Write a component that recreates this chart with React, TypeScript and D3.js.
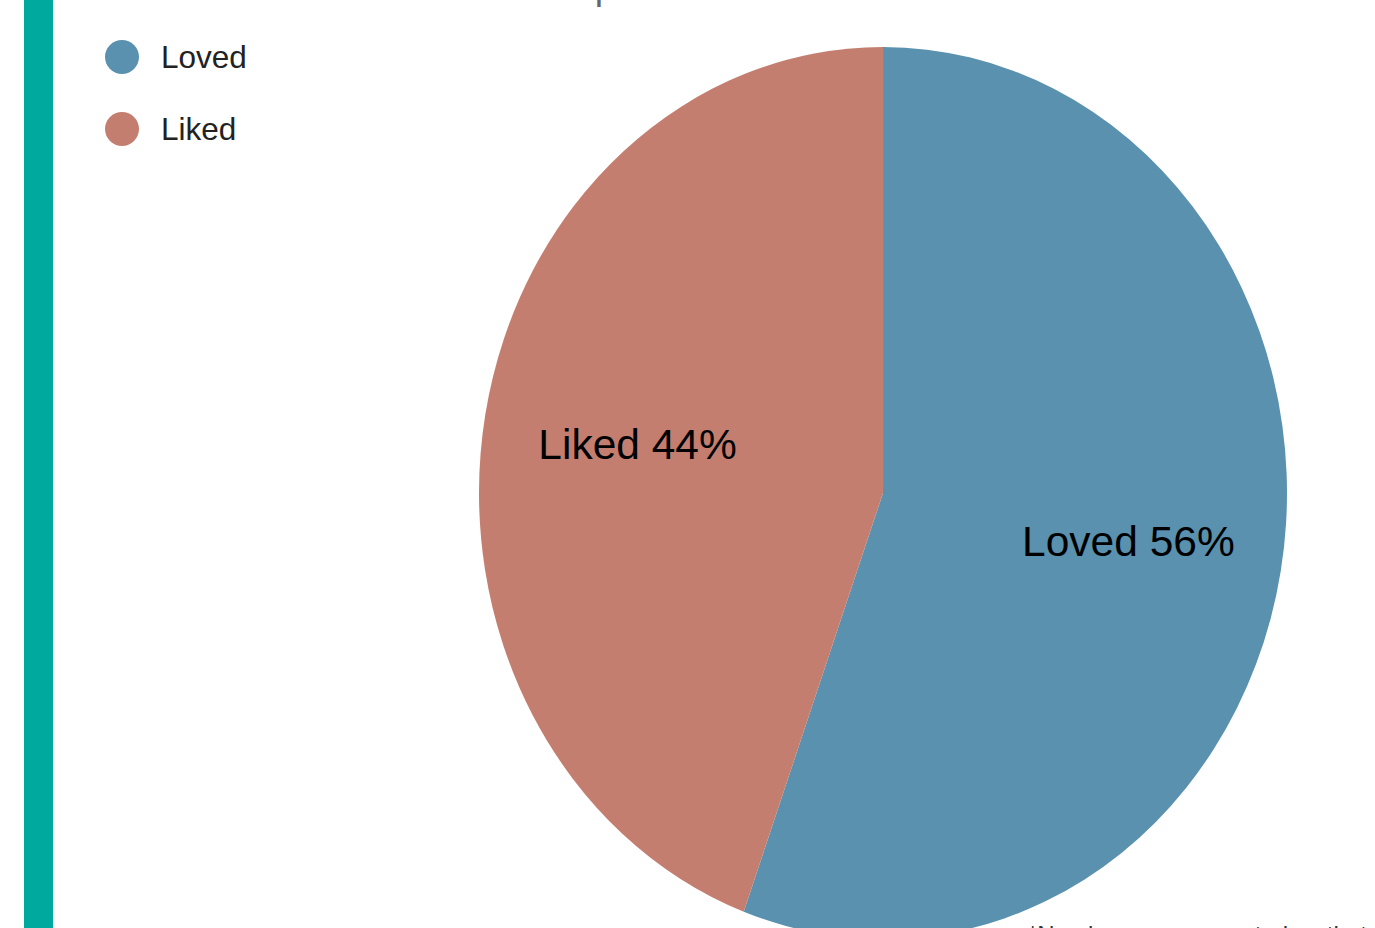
import React from "react";
import * as d3 from "d3";

const categories = ["Loved", "Liked"];
const values = [55.6, 44.4];
const colors = ["#5991AF", "#C47E6F"];
const titleText = "Recipe Satisfaction Results";
const footnoteText = "*Numbers are computed so that the total is 100%";

const W = 1375;
const H = 928;

export default function App() {
  const cx = 883;
  const cy = 493;
  const rx = 404;
  const ry = 446;

  const pie = d3.pie<number>().sort(null).value((d) => d);
  const arcs = pie(values);
  const arc = d3.arc<d3.PieArcDatum<number>>().innerRadius(0).outerRadius(rx);
  const labelArc = d3
    .arc<d3.PieArcDatum<number>>()
    .innerRadius(rx * 0.617)
    .outerRadius(rx * 0.617);
  const sy = ry / rx;
  const total = d3.sum(values);

  const legendY = d3.scalePoint<string>().domain(categories).range([57, 129]);

  return (
    <div style={{ position: "absolute", left: 0, top: 0, width: W, height: H, overflow: "hidden" }}>
      <svg width={W} height={H} style={{ display: "block", background: "#fff" }}>
        <rect x={24} y={0} width={29} height={H} fill="#00A99D" />
        <text
          x={520}
          y={-1}
          fontFamily="Liberation Sans, Arial, sans-serif"
          fontSize={40}
          fill="#666"
          textLength={455}
          lengthAdjust="spacingAndGlyphs"
        >
          {titleText}
        </text>
        <g transform={`translate(${cx},${cy}) scale(1,${sy})`}>
          {arcs.map((a, i) => (
            <path key={i} d={arc(a) || ""} fill={colors[i]} />
          ))}
        </g>
        {arcs.map((a, i) => {
          const [lx, ly] = labelArc.centroid(a);
          return (
            <text
              key={i}
              x={cx + lx}
              y={cy + ly * sy}
              textAnchor="middle"
              dominantBaseline="central"
              fontFamily="Liberation Sans, Arial, sans-serif"
              fontSize={42.5}
              fill="#000"
            >
              {`${categories[i]} ${Math.round((values[i] / total) * 100)}%`}
            </text>
          );
        })}
        {categories.map((c, i) => (
          <g key={c}>
            <circle cx={122} cy={legendY(c)} r={17} fill={colors[i]} />
            <text
              x={161}
              y={legendY(c)}
              dominantBaseline="central"
              fontFamily="Liberation Sans, Arial, sans-serif"
              fontSize={31.5}
              fill="#222"
            >
              {c}
            </text>
          </g>
        ))}
        <text
          x={1028}
          y={943}
          fontFamily="Liberation Sans, Arial, sans-serif"
          fontSize={24}
          fill="#333"
        >
          {footnoteText}
        </text>
      </svg>
    </div>
  );
}
